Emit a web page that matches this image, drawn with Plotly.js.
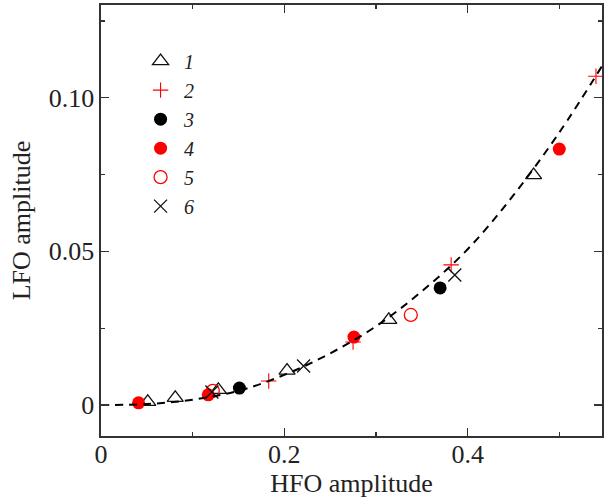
<!DOCTYPE html>
<html>
<head>
<meta charset="utf-8">
<script src="https://cdn.plot.ly/plotly-3.0.1.min.js"></script>
<style>html,body{margin:0;padding:0;background:#fff;}#chart{width:604px;height:504px;}</style>
</head>
<body>
<div id="chart"></div>
<script>
// Series data (HFO amplitude, LFO amplitude)
const s1x = [0.051, 0.081, 0.128, 0.203, 0.314, 0.472];
const s1y = [0.0010, 0.0023, 0.0049, 0.0112, 0.0277, 0.0748];
const s2x = [0.183, 0.275, 0.382, 0.540];
const s2y = [0.0078, 0.0205, 0.0456, 0.1070];
const s3x = [0.151, 0.370];
const s3y = [0.0055, 0.0381];
const s4x = [0.041, 0.117, 0.276, 0.500];
const s4y = [0.0007, 0.0033, 0.0221, 0.0833];
const s5x = [0.122, 0.338];
const s5y = [0.0046, 0.0293];
const s6x = [0.121, 0.221, 0.386];
const s6y = [0.0042, 0.0127, 0.0423];
// Dashed fit curve
const fitX = [0, 0.05, 0.10, 0.15, 0.20, 0.25, 0.30, 0.35, 0.40, 0.45, 0.50, 0.547];
const fitY = [0, 0.0003, 0.0017, 0.0046, 0.0098, 0.0168, 0.0256, 0.0370, 0.0507, 0.0683, 0.0887, 0.1105];
const seriesNames = ['1', '2', '3', '4', '5', '6'];
const xTickVals = [0, 0.2, 0.4];
const xTickText = ['0', '0.2', '0.4'];
const xMinor = [0.1, 0.3, 0.5];
const yTickVals = [0, 0.05, 0.10];
const yTickText = ['0', '0.05', '0.10'];
const yMinor = [0.025, 0.075, 0.125];

const RED = '#ff0000';
const traces = [
  {x: s1x, y: s1y, name: '<i>' + seriesNames[0] + '</i>', mode: 'markers',
   marker: {symbol: 'triangle-up-open', size: 14, color: '#111', line: {width: 1.3}}},
  {x: s2x, y: s2y, name: '<i>' + seriesNames[1] + '</i>', mode: 'markers',
   marker: {symbol: 'cross-thin-open', size: 11, color: RED, line: {width: 1.1, color: RED}}},
  {x: s3x, y: s3y, name: '<i>' + seriesNames[2] + '</i>', mode: 'markers',
   marker: {symbol: 'circle', size: 13, color: '#000', line: {width: 0}}},
  {x: s4x, y: s4y, name: '<i>' + seriesNames[3] + '</i>', mode: 'markers',
   marker: {symbol: 'circle', size: 13, color: RED, line: {width: 0}}},
  {x: s5x, y: s5y, name: '<i>' + seriesNames[4] + '</i>', mode: 'markers',
   marker: {symbol: 'circle-open', size: 13, color: RED, line: {width: 1.3}}},
  {x: s6x, y: s6y, name: '<i>' + seriesNames[5] + '</i>', mode: 'markers',
   marker: {symbol: 'x-thin-open', size: 13, color: '#111', line: {width: 1.3, color: '#111'}}},
  {x: fitX, y: fitY, mode: 'lines', showlegend: false, hoverinfo: 'skip',
   line: {color: '#000', width: 2, dash: '8px,6px', shape: 'spline'}}
];

const axisCommon = {
  showgrid: false, zeroline: false, showline: true, linecolor: '#333', linewidth: 1.6,
  mirror: 'ticks', ticks: 'inside', ticklen: 8, tickwidth: 1.3, tickcolor: '#333',
  tickfont: {family: 'Liberation Serif', size: 26, color: '#222'}
};

const layout = {
  width: 604, height: 504,
  margin: {l: 101, r: 2, t: 5, b: 68},
  paper_bgcolor: '#fff', plot_bgcolor: '#fff',
  font: {family: 'Liberation Serif', color: '#222'},
  showlegend: true,
  legend: {x: 0.072, y: 0.915, xanchor: 'left', yanchor: 'top', bgcolor: 'rgba(0,0,0,0)',
           font: {family: 'Liberation Serif', size: 20, color: '#222'}, itemwidth: 37, tracegroupgap: 0},
  xaxis: Object.assign({}, axisCommon, {
    range: [0, 0.5466], tickmode: 'array', tickvals: xTickVals, ticktext: xTickText,
    ticklabelstandoff: -6,
    minor: {tickvals: xMinor, ticks: 'inside', ticklen: 4, tickwidth: 1.3, tickcolor: '#333'},
    title: {text: 'HFO amplitude', font: {family: 'Liberation Serif', size: 26, color: '#222'}, standoff: 6}
  }),
  yaxis: Object.assign({}, axisCommon, {
    range: [-0.0101, 0.1302], tickmode: 'array', tickvals: yTickVals, ticktext: yTickText,
    minor: {tickvals: yMinor, ticks: 'inside', ticklen: 4, tickwidth: 1.3, tickcolor: '#333'},
    title: {text: 'LFO amplitude', font: {family: 'Liberation Serif', size: 26, color: '#222'}, standoff: 10}
  })
};

Plotly.newPlot('chart', traces, layout, {displayModeBar: false, staticPlot: true});
</script>
</body>
</html>
